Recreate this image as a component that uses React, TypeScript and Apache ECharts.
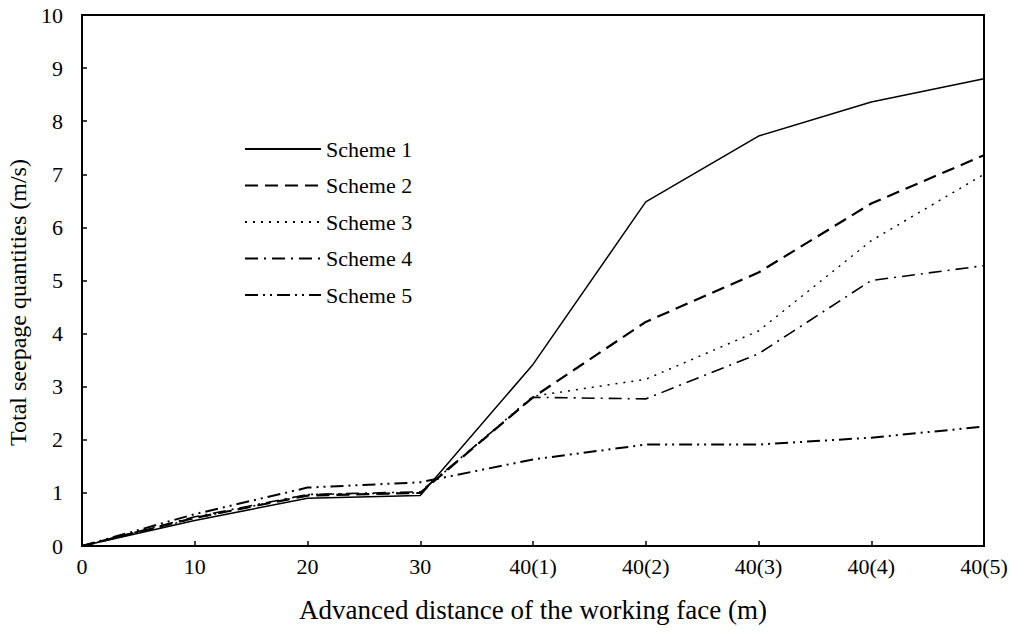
import React, { useEffect, useRef } from "react";
import * as echarts from "echarts";

const categories = ["0", "10", "20", "30", "40(1)", "40(2)", "40(3)", "40(4)", "40(5)"];
const scheme1 = [0, 0.48, 0.9, 0.95, 3.42, 6.48, 7.72, 8.36, 8.8];
const scheme2 = [0, 0.53, 0.95, 1.0, 2.8, 4.22, 5.15, 6.45, 7.36];
const scheme3 = [0, 0.52, 0.97, 1.0, 2.82, 3.14, 4.05, 5.75, 7.0];
const scheme4 = [0, 0.55, 0.97, 1.02, 2.8, 2.77, 3.62, 5.0, 5.28];
const scheme5 = [0, 0.6, 1.1, 1.2, 1.63, 1.91, 1.91, 2.04, 2.25];
const seriesNames = ["Scheme 1", "Scheme 2", "Scheme 3", "Scheme 4", "Scheme 5"];

const FONT = "Liberation Serif";

export default function App() {
  const ref = useRef<HTMLDivElement>(null);
  useEffect(() => {
    if (!ref.current) return;
    const chart = echarts.init(ref.current, undefined, { renderer: "svg" });
    const mk = (name: string, data: number[], width: number, type: any) => ({
      name,
      type: "line",
      data,
      symbol: "none",
      showSymbol: false,
      smooth: false,
      lineStyle: { color: "#000", width, type },
      itemStyle: { color: "#000" },
    });
    chart.setOption({
      animation: false,
      backgroundColor: "#fff",
      textStyle: { fontFamily: FONT, color: "#000" },
      grid: {
        left: 82,
        right: 29,
        top: 15,
        bottom: 94,
        containLabel: false,
        outerBoundsMode: "none",
        show: true,
        borderColor: "#000",
        borderWidth: 2,
        backgroundColor: "transparent",
      },
      legend: {
        orient: "vertical",
        left: 239,
        top: 133,
        padding: 5,
        itemWidth: 76,
        itemHeight: 14,
        itemGap: 14.5,
        itemStyle: { opacity: 0 },
        textStyle: { fontFamily: FONT, fontSize: 22, color: "#000", lineHeight: 22 },
        data: seriesNames,
      },
      xAxis: {
        type: "category",
        data: categories,
        boundaryGap: false,
        name: "Advanced distance of the working face (m)",
        nameLocation: "middle",
        nameGap: 50,
        nameTextStyle: { fontFamily: FONT, fontSize: 27, color: "#000" },
        axisLine: { lineStyle: { color: "#000", width: 2 } },
        axisTick: { inside: true, length: 5, lineStyle: { color: "#000", width: 1.5 } },
        axisLabel: { fontFamily: FONT, fontSize: 22, color: "#000", margin: 9 },
        splitLine: { show: false },
      },
      yAxis: {
        type: "value",
        min: 0,
        max: 10,
        interval: 1,
        name: "Total seepage quantities (m/s)",
        nameLocation: "middle",
        nameGap: 48,
        nameTextStyle: { fontFamily: FONT, fontSize: 24, color: "#000", padding: [0, 44, 0, 0] },
        axisLine: { show: true, lineStyle: { color: "#000", width: 2 } },
        axisTick: { show: true, inside: true, length: 5, lineStyle: { color: "#000", width: 1.5 } },
        axisLabel: { fontFamily: FONT, fontSize: 22, color: "#000", margin: 19 },
        splitLine: { show: false },
      },
      series: [
        mk("Scheme 1", scheme1, 1.5, "solid"),
        mk("Scheme 2", scheme2, 2.2, [13, 7]),
        mk("Scheme 3", scheme3, 1.5, [2, 6]),
        mk("Scheme 4", scheme4, 1.6, [13, 6, 2, 6]),
        mk("Scheme 5", scheme5, 2, [13, 5, 2, 5, 2, 5]),
      ],
    });
    return () => chart.dispose();
  }, []);
  return (
    <div
      ref={ref}
      style={{ position: "fixed", left: 0, top: 0, width: 1013, height: 640 }}
    />
  );
}
